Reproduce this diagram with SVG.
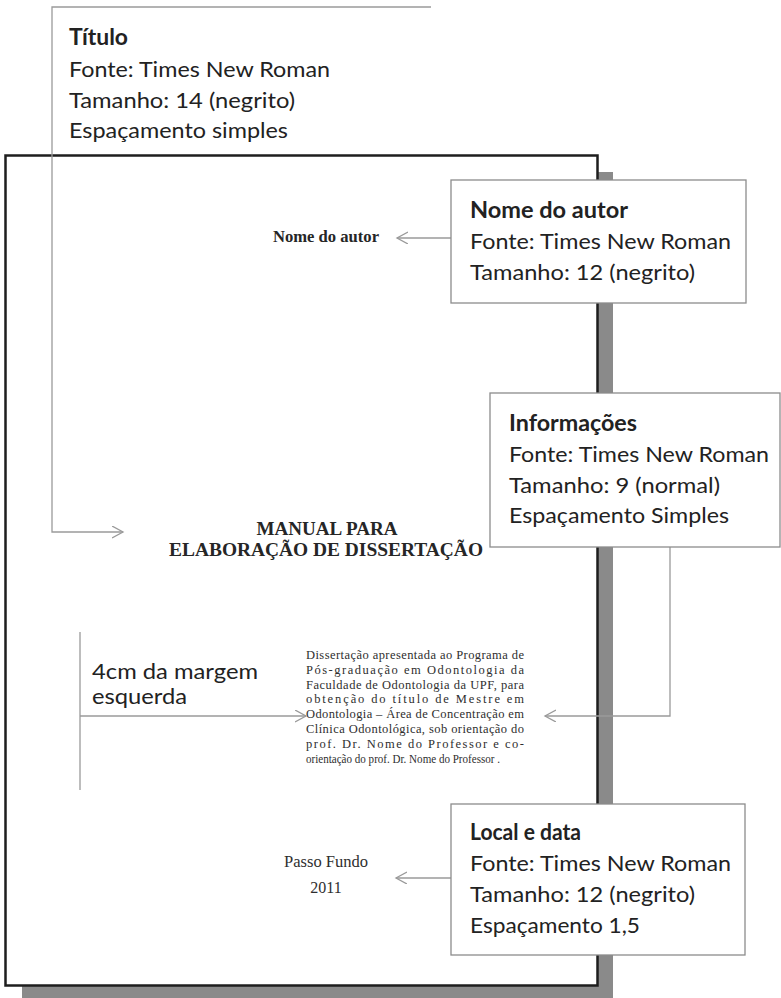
<svg xmlns="http://www.w3.org/2000/svg" width="781" height="998" viewBox="0 0 781 998">
<style>
.bx{fill:#fff;stroke:#8c8c8c;stroke-width:1.3}
.cn{fill:none;stroke:#9a9a9a;stroke-width:1.3}
.lb{font-family:Lato,"Open Sans",sans-serif;font-size:22px;fill:#222}
.hd{font-weight:700}
.tm{font-family:"Liberation Serif","Times New Roman",serif;fill:#2e2e2e}
.tb{font-family:"Liberation Serif","Times New Roman",serif;font-weight:700;fill:#262626}
</style>
<defs>
<marker id="ar" markerUnits="userSpaceOnUse" markerWidth="14" markerHeight="14" refX="11" refY="6" orient="auto">
<path d="M0,0 L11,6 L0,12" fill="none" stroke="#9a9a9a" stroke-width="1.3"/>
</marker>
</defs>
<rect width="781" height="998" fill="#fff"/>
<g id="page">
<rect x="22" y="172" width="591" height="830" fill="#8a8a8a"/>
<rect x="5.5" y="155.5" width="592" height="830" fill="#fff" stroke="#1e1e1e" stroke-width="2.5"/>
<text class="tb" x="326" y="242" font-size="16.5" text-anchor="middle" textLength="106" lengthAdjust="spacingAndGlyphs">Nome do autor</text>
<text class="tb" x="327" y="535" font-size="18.5" text-anchor="middle" textLength="141" lengthAdjust="spacingAndGlyphs">MANUAL PARA</text>
<text class="tb" x="326" y="556" font-size="18.5" text-anchor="middle" textLength="314" lengthAdjust="spacingAndGlyphs">ELABORAÇÃO DE DISSERTAÇÃO</text>
<g class="tm" font-size="12.5">
<text x="306" y="659" textLength="218" lengthAdjust="spacing">Dissertação apresentada ao Programa de</text>
<text x="306" y="673.8" textLength="218" lengthAdjust="spacing">Pós-graduação em Odontologia da</text>
<text x="306" y="688.6" textLength="218" lengthAdjust="spacing">Faculdade de Odontologia da UPF, para</text>
<text x="306" y="703.4" textLength="218" lengthAdjust="spacing">obtenção do título de Mestre em</text>
<text x="306" y="718.2" textLength="218" lengthAdjust="spacing">Odontologia – Área  de Concentração em</text>
<text x="306" y="733" textLength="218" lengthAdjust="spacing">Clínica Odontológica, sob orientação do</text>
<text x="306" y="747.8" textLength="218" lengthAdjust="spacing">prof. Dr. Nome do Professor e co-</text>
<text x="306" y="762.6" textLength="194" lengthAdjust="spacingAndGlyphs">orientação do prof. Dr. Nome do Professor .</text>
</g>
<text class="tm" x="326" y="867" font-size="16" text-anchor="middle" textLength="84" lengthAdjust="spacingAndGlyphs">Passo Fundo</text>
<text class="tm" x="326" y="893" font-size="16" text-anchor="middle">2011</text>
</g>
<g id="connectors">
<path class="cn" d="M431,7 H52 V532 H123" marker-end="url(#ar)"/>
<path class="cn" d="M451,238 H397" marker-end="url(#ar)"/>
<path class="cn" d="M670,547 V716 H545" marker-end="url(#ar)"/>
<path class="cn" d="M80,632 V790"/>
<path class="cn" d="M80,716 H306" marker-end="url(#ar)"/>
<path class="cn" d="M451,878 H396" marker-end="url(#ar)"/>
</g>
<g id="titulo">
<text class="lb hd" x="69" y="45" textLength="59" lengthAdjust="spacingAndGlyphs">Título</text>
<text class="lb" x="69" y="77" textLength="261" lengthAdjust="spacingAndGlyphs">Fonte: Times New Roman</text>
<text class="lb" x="69" y="107.5" textLength="226" lengthAdjust="spacingAndGlyphs">Tamanho: 14 (negrito)</text>
<text class="lb" x="69" y="138" textLength="219" lengthAdjust="spacingAndGlyphs">Espaçamento simples</text>
</g>
<g id="nome-autor">
<rect class="bx" x="451" y="180" width="295" height="123"/>
<text class="lb hd" x="470" y="217.5" textLength="158" lengthAdjust="spacingAndGlyphs">Nome do autor</text>
<text class="lb" x="470" y="249" textLength="261" lengthAdjust="spacingAndGlyphs">Fonte: Times New Roman</text>
<text class="lb" x="470" y="280" textLength="225" lengthAdjust="spacingAndGlyphs">Tamanho: 12 (negrito)</text>
</g>
<g id="informacoes">
<rect class="bx" x="490" y="393" width="290" height="154"/>
<text class="lb hd" x="509" y="430.5" textLength="128" lengthAdjust="spacingAndGlyphs">Informações</text>
<text class="lb" x="509" y="461.5" textLength="260" lengthAdjust="spacingAndGlyphs">Fonte: Times New Roman</text>
<text class="lb" x="509" y="492.5" textLength="211" lengthAdjust="spacingAndGlyphs">Tamanho: 9 (normal)</text>
<text class="lb" x="509" y="523" textLength="220" lengthAdjust="spacingAndGlyphs">Espaçamento Simples</text>
</g>
<g id="margem">
<text class="lb" x="92" y="679" font-size="25" textLength="166" lengthAdjust="spacingAndGlyphs">4cm da margem</text>
<text class="lb" x="92" y="703.5" font-size="25" textLength="95" lengthAdjust="spacingAndGlyphs">esquerda</text>
</g>
<g id="local-data">
<rect class="bx" x="451" y="804" width="294" height="151"/>
<text class="lb hd" x="470" y="840" textLength="111" lengthAdjust="spacingAndGlyphs">Local e data</text>
<text class="lb" x="470" y="871" textLength="261" lengthAdjust="spacingAndGlyphs">Fonte: Times New Roman</text>
<text class="lb" x="470" y="902" textLength="225" lengthAdjust="spacingAndGlyphs">Tamanho: 12 (negrito)</text>
<text class="lb" x="470" y="933" textLength="170" lengthAdjust="spacingAndGlyphs">Espaçamento 1,5</text>
</g>
</svg>
